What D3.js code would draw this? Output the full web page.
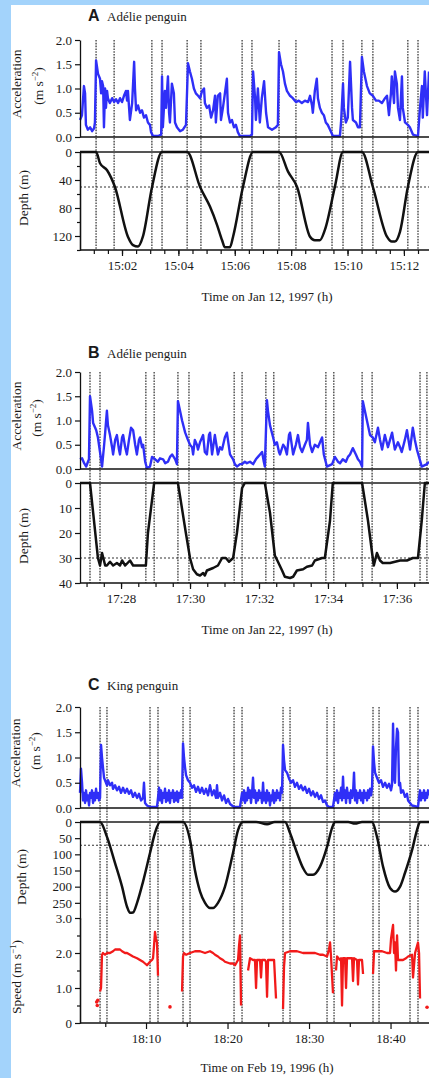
<!DOCTYPE html>
<html><head><meta charset="utf-8">
<script src="https://cdn.jsdelivr.net/npm/d3@7"></script>
<style>
body{margin:0;background:#a3d3fb;}
svg{display:block}
svg text{font-family:"Liberation Serif","DejaVu Serif",serif !important;fill:#1a1a1a;}
svg text.lt{font-family:"Liberation Sans","DejaVu Sans",sans-serif !important;}
</style>
</head><body><svg id="c" width="429" height="1078" font-family="Liberation Serif"></svg>
<script>
// ---------------- DATA ----------------
// Panel A: minutes after 15:00, Jan 12 1997
const accA = [[0.51,0.35],[0.58,0.45],[0.65,1.05],[0.69,0.9],[0.72,0.25],[0.79,0.15],[0.87,0.2],[0.94,0.12],[1.01,0.18],[1.04,0.3],[1.08,1.58],[1.15,1.3],[1.22,1.2],[1.26,0.9],[1.29,1.15],[1.33,1.05],[1.36,0.2],[1.40,1.0],[1.43,0.6],[1.47,0.95],[1.50,0.8],[1.57,0.7],[1.65,0.8],[1.72,0.72],[1.79,0.78],[1.86,0.7],[1.93,0.8],[2.00,0.72],[2.07,0.85],[2.14,0.95],[2.18,0.75],[2.21,0.95],[2.28,0.35],[2.36,0.7],[2.43,1.55],[2.46,1.0],[2.50,0.55],[2.57,0.65],[2.64,0.5],[2.71,0.55],[2.78,0.4],[2.85,0.45],[2.92,0.3],[2.99,0.25],[3.03,0.1],[3.10,0.02],[3.28,0.02],[3.39,0.05],[3.42,1.25],[3.45,0.2],[3.52,0.95],[3.56,0.6],[3.63,1.25],[3.67,0.5],[3.70,0.3],[3.77,1.1],[3.84,0.9],[3.88,0.3],[3.95,0.2],[4.06,0.12],[4.16,0.15],[4.27,0.25],[4.34,1.52],[4.41,1.35],[4.48,1.2],[4.55,1.0],[4.62,0.9],[4.70,0.85],[4.77,0.8],[4.84,0.95],[4.91,1.0],[4.94,0.7],[5.01,0.6],[5.09,0.65],[5.16,0.4],[5.23,0.55],[5.30,0.85],[5.33,0.3],[5.40,0.85],[5.48,0.9],[5.51,0.35],[5.58,0.6],[5.65,0.9],[5.72,1.2],[5.76,0.5],[5.83,0.3],[5.90,0.35],[5.97,0.2],[6.04,0.25],[6.11,0.1],[6.18,0.02],[6.54,0.02],[6.61,0.05],[6.65,1.35],[6.72,0.8],[6.75,0.35],[6.82,1.0],[6.89,0.3],[6.96,0.8],[7.04,1.15],[7.11,0.5],[7.18,0.2],[7.32,0.15],[7.46,0.2],[7.53,0.25],[7.57,1.75],[7.64,1.5],[7.71,1.35],[7.78,1.1],[7.85,0.95],[7.96,0.85],[8.06,0.8],[8.17,0.72],[8.27,0.75],[8.38,0.7],[8.49,0.75],[8.60,0.72],[8.67,0.85],[8.74,0.65],[8.77,0.5],[8.84,0.95],[8.91,1.2],[8.95,0.8],[9.02,0.6],[9.09,0.5],[9.16,0.45],[9.23,0.3],[9.30,0.25],[9.38,0.15],[9.48,0.02],[9.73,0.02],[9.77,0.3],[9.84,1.1],[9.87,0.6],[9.94,0.3],[10.01,0.4],[10.09,1.55],[10.16,0.6],[10.19,0.35],[10.30,0.3],[10.37,0.2],[10.44,0.2],[10.51,1.65],[10.58,1.35],[10.69,1.05],[10.79,0.9],[10.90,0.85],[11.01,0.75],[11.11,0.75],[11.22,0.7],[11.33,0.8],[11.40,0.85],[11.47,0.45],[11.54,0.9],[11.57,1.25],[11.65,0.7],[11.68,1.35],[11.75,1.1],[11.79,0.6],[11.86,0.35],[11.93,1.25],[11.96,0.6],[12.04,0.3],[12.14,0.25],[12.21,0.2],[12.32,0.05],[12.50,0.02],[12.57,0.6],[12.64,1.05],[12.67,0.4],[12.74,1.35],[12.82,0.45],[12.89,1.35]];
const depthA = [[0.51,0],[1.08,0],[1.22,16],[1.47,26],[1.75,50],[2.21,121],[2.39,133],[2.57,135],[2.74,121],[3.06,51],[3.42,0],[4.31,0],[4.77,50],[5.12,78],[5.37,104],[5.55,126],[5.65,136],[5.83,136],[5.94,121],[6.29,50],[6.65,0],[7.57,0],[7.89,28],[8.21,50],[8.67,121],[8.84,126],[9.02,126],[9.20,111],[9.55,50],[9.84,0],[10.51,0],[10.90,50],[11.40,121],[11.57,128],[11.68,128],[11.86,114],[12.14,50],[12.50,0],[12.89,0]];
const linesA = [1.08,1.72,3.06,3.42,4.31,4.80,6.26,6.61,7.57,8.17,9.45,9.84,10.51,10.90,12.14,12.50];
const ticksA = [2,4,6,8,10,12];
const tickLabelsA = ["15:02","15:04","15:06","15:08","15:10","15:12"];

// Panel B: minutes after 17:00, Jan 22 1997
const accB = [[26.81,0.2],[26.87,0.22],[26.93,0.12],[26.99,0.05],[27.04,0.15],[27.07,0.2],[27.10,1.5],[27.16,1.2],[27.19,0.95],[27.25,0.85],[27.28,0.8],[27.33,0.65],[27.39,0.35],[27.45,0.05],[27.51,0.5],[27.54,0.75],[27.59,1.2],[27.62,0.9],[27.68,0.7],[27.74,0.45],[27.77,0.3],[27.83,0.6],[27.88,0.7],[27.94,0.4],[27.97,0.3],[28.03,0.65],[28.06,0.7],[28.12,0.45],[28.17,0.3],[28.23,0.6],[28.29,0.85],[28.35,0.8],[28.41,0.5],[28.46,0.3],[28.52,0.6],[28.55,0.65],[28.61,0.45],[28.64,0.5],[28.70,0.15],[28.75,0.02],[28.84,0.05],[28.90,0.25],[28.99,0.2],[29.07,0.15],[29.13,0.22],[29.22,0.2],[29.28,0.12],[29.36,0.15],[29.42,0.25],[29.48,0.3],[29.57,0.2],[29.62,0.1],[29.65,1.4],[29.71,1.2],[29.77,1.0],[29.86,0.75],[29.94,0.6],[30.00,0.5],[30.06,0.45],[30.09,0.3],[30.14,0.6],[30.20,0.5],[30.23,0.4],[30.29,0.55],[30.38,0.7],[30.43,0.35],[30.49,0.3],[30.55,0.7],[30.58,0.75],[30.64,0.3],[30.72,0.7],[30.81,0.3],[30.87,0.45],[30.93,0.4],[31.01,0.65],[31.07,0.75],[31.16,0.3],[31.25,0.2],[31.30,0.1],[31.36,0.05],[31.45,0.1],[31.51,0.1],[31.59,0.15],[31.65,0.12],[31.74,0.15],[31.83,0.1],[31.91,0.2],[31.97,0.25],[32.03,0.3],[32.09,0.35],[32.14,0.15],[32.17,0.05],[32.23,1.42],[32.26,1.2],[32.32,0.9],[32.41,0.65],[32.46,0.5],[32.52,0.55],[32.58,0.35],[32.61,0.3],[32.70,0.5],[32.75,0.45],[32.81,0.3],[32.87,0.7],[32.90,0.75],[32.99,0.3],[33.07,0.5],[33.13,0.7],[33.19,0.45],[33.25,0.35],[33.33,0.5],[33.39,0.6],[33.42,0.95],[33.48,0.5],[33.54,0.35],[33.62,0.5],[33.71,0.45],[33.77,0.55],[33.83,0.65],[33.88,0.3],[33.97,0.05],[34.06,0.08],[34.12,0.1],[34.20,0.25],[34.29,0.15],[34.35,0.12],[34.43,0.2],[34.52,0.15],[34.58,0.25],[34.64,0.3],[34.72,0.43],[34.81,0.3],[34.87,0.2],[34.93,0.15],[34.99,0.05],[35.01,1.4],[35.07,1.2],[35.13,1.0],[35.22,0.7],[35.30,0.65],[35.36,0.55],[35.45,0.85],[35.51,0.6],[35.57,0.4],[35.65,0.7],[35.74,0.45],[35.80,0.6],[35.86,0.75],[35.94,0.4],[36.03,0.55],[36.09,0.45],[36.14,0.35],[36.23,0.6],[36.29,0.8],[36.38,0.4],[36.46,0.85],[36.52,0.6],[36.58,0.4],[36.64,0.25],[36.72,0.05],[36.81,0.08],[36.87,0.1],[36.93,0.15]];
const depthB = [[26.81,0],[27.10,0],[27.33,30],[27.39,33],[27.45,28],[27.54,33],[27.59,33],[27.68,31.5],[27.77,33],[27.88,32],[27.97,33],[28.03,31],[28.12,33],[28.26,31],[28.35,33],[28.55,33],[28.72,33],[28.78,20],[28.96,0],[29.65,0],[29.88,20],[30.00,30],[30.09,34.5],[30.20,36.5],[30.29,37],[30.38,36],[30.43,37],[30.49,35],[30.67,34],[30.81,33],[30.93,30],[31.04,30],[31.13,31.5],[31.25,30],[31.36,20],[31.51,2],[31.59,0],[32.17,0],[32.32,12],[32.46,29],[32.55,31.5],[32.67,35],[32.75,37.5],[32.90,38],[32.99,37.5],[33.10,35],[33.28,34.5],[33.39,33.5],[33.54,33],[33.62,31],[33.83,30],[33.91,30],[34.06,15],[34.14,0],[34.99,0],[35.16,15],[35.28,28],[35.33,33],[35.42,28],[35.51,31],[35.59,32],[35.80,32],[36.09,31],[36.29,31],[36.46,30],[36.61,30],[36.72,15],[36.81,0],[36.93,0]];
const linesB = [27.10,27.39,28.72,28.96,29.65,29.97,31.28,31.51,32.20,32.43,33.94,34.17,34.99,35.28,36.67,36.87];
const ticksB = [28,30,32,34,36];
const tickLabelsB = ["17:28","17:30","17:32","17:34","17:36"];

// Panel C: minutes after 18:00, Feb 19 1996
const accC = [[1.90,0.3],[2.02,0.78],[2.15,0.5],[2.27,0.15],[2.39,0.3],[2.52,0.1],[2.64,0.35],[2.76,0.15],[2.88,0.25],[3.01,0.05],[3.13,0.3],[3.25,0.2],[3.37,0.35],[3.50,0.1],[3.62,0.3],[3.74,0.15],[3.87,0.38],[3.99,0.2],[4.11,0.3],[4.23,0.15],[4.36,0.2],[4.48,1.25],[4.60,1.0],[4.72,0.8],[4.85,0.6],[4.97,0.55],[5.21,0.45],[5.33,0.55],[5.58,0.45],[5.83,0.5],[5.95,0.38],[6.20,0.45],[6.44,0.35],[6.69,0.42],[6.93,0.3],[7.18,0.4],[7.42,0.3],[7.67,0.38],[7.91,0.28],[8.16,0.35],[8.40,0.22],[8.65,0.3],[8.90,0.2],[9.14,0.28],[9.39,0.15],[9.63,0.2],[9.75,0.5],[9.88,0.1],[10.12,0.05],[10.49,0.02],[11.35,0.02],[11.47,0.2],[11.60,0.4],[11.72,0.15],[11.84,0.35],[11.96,0.1],[12.09,0.3],[12.21,0.2],[12.33,0.38],[12.45,0.12],[12.58,0.3],[12.70,0.15],[12.82,0.35],[12.94,0.1],[13.07,0.3],[13.19,0.2],[13.31,0.35],[13.44,0.12],[13.56,0.3],[13.68,0.15],[13.80,0.33],[13.93,0.12],[14.05,0.3],[14.17,0.2],[14.30,0.35],[14.42,0.2],[14.54,1.28],[14.66,1.0],[14.79,0.8],[14.91,0.65],[15.15,0.55],[15.40,0.5],[15.64,0.4],[15.89,0.45],[16.14,0.32],[16.38,0.42],[16.63,0.3],[16.87,0.4],[17.12,0.28],[17.36,0.38],[17.61,0.25],[17.85,0.45],[18.10,0.25],[18.34,0.35],[18.59,0.2],[18.71,0.45],[18.83,0.2],[19.08,0.3],[19.33,0.15],[19.57,0.25],[19.82,0.1],[20.06,0.18],[20.31,0.08],[20.55,0.05],[20.80,0.02],[21.53,0.02],[21.78,0.3],[21.90,0.15],[22.03,0.35],[22.15,0.1],[22.27,0.3],[22.39,0.15],[22.52,0.4],[22.64,0.2],[22.76,0.35],[22.88,0.1],[23.01,0.3],[23.13,0.6],[23.25,0.2],[23.37,0.35],[23.50,0.1],[23.62,0.3],[23.74,0.15],[23.87,0.35],[23.99,0.2],[24.11,0.3],[24.23,0.1],[24.36,0.5],[24.48,0.15],[24.60,0.3],[24.72,0.1],[24.85,0.35],[24.97,0.15],[25.09,0.3],[25.21,0.05],[25.34,0.25],[25.46,0.15],[25.58,0.35],[25.71,0.1],[25.83,0.3],[25.95,0.15],[26.07,0.35],[26.20,0.2],[26.32,0.3],[26.44,0.15],[26.56,0.4],[26.69,0.3],[26.81,1.25],[26.93,0.95],[27.06,0.75],[27.30,0.7],[27.55,0.58],[27.79,0.5],[28.04,0.55],[28.28,0.42],[28.53,0.5],[28.77,0.38],[29.02,0.45],[29.26,0.35],[29.51,0.42],[29.75,0.3],[30.00,0.38],[30.25,0.25],[30.49,0.33],[30.74,0.22],[30.98,0.3],[31.23,0.18],[31.47,0.25],[31.72,0.12],[31.96,0.15],[32.21,0.05],[32.45,0.02],[32.94,0.02],[33.19,0.3],[33.31,0.15],[33.44,0.35],[33.56,0.1],[33.68,0.3],[33.80,0.2],[33.93,0.4],[34.05,0.15],[34.17,0.62],[34.29,0.2],[34.42,0.35],[34.54,0.1],[34.66,0.4],[34.79,0.2],[34.91,0.3],[35.03,0.1],[35.15,0.35],[35.28,0.2],[35.40,0.3],[35.52,0.7],[35.64,0.15],[35.77,0.35],[35.89,0.1],[36.01,0.3],[36.13,0.2],[36.26,0.35],[36.38,0.15],[36.50,0.3],[36.63,0.1],[36.75,0.35],[36.87,0.2],[37.00,0.3],[37.12,0.15],[37.24,0.35],[37.36,0.2],[37.48,0.38],[37.61,0.25],[37.73,0.4],[37.85,1.22],[37.98,0.9],[38.10,0.7],[38.34,0.6],[38.59,0.5],[38.83,0.55],[39.08,0.42],[39.33,0.5],[39.57,0.4],[39.82,0.48],[40.06,0.35],[40.18,0.45],[40.31,1.67],[40.43,0.6],[40.55,0.5],[40.67,1.2],[40.80,1.57],[40.92,1.5],[41.04,0.45],[41.17,0.5],[41.29,0.3],[41.53,0.35],[41.78,0.22],[42.02,0.28],[42.15,0.15],[42.39,0.1],[42.64,0.05],[43.37,0.02],[43.50,0.2],[43.62,0.35],[43.74,0.15],[43.87,0.3],[43.99,0.2],[44.11,0.35],[44.23,0.15],[44.36,0.3],[44.48,0.2],[44.60,0.35],[44.72,0.25]];
const depthC = [[1.90,0],[4.36,0],[5.21,46],[6.20,127],[7.06,200],[7.67,262],[8.04,281],[8.40,280],[8.90,250],[9.63,185],[10.49,96],[11.10,34],[11.72,0],[14.54,0],[15.40,56],[16.01,150],[16.63,215],[17.24,250],[17.85,266],[18.22,266],[18.83,250],[19.69,200],[20.67,96],[21.29,25],[21.90,0],[23.5,0],[24.85,7],[25.8,0],[27.06,0],[27.67,34],[28.53,96],[29.26,142],[29.88,163],[30.49,163],[31.35,138],[32.21,77],[32.82,19],[33.19,0],[34.8,0],[35.64,5],[36.5,0],[37.73,0],[38.34,46],[39.08,138],[39.94,204],[40.55,215],[41.17,200],[41.78,157],[42.64,87],[43.25,25],[43.62,0],[44.72,0]];
// speed: null separates recorded segments
const speedC = [[4.36,0.9],[4.48,1.0],[4.60,1.95],[4.72,2.0],[4.97,1.95],[5.21,2.0],[5.58,2.0],[5.95,2.05],[6.20,2.1],[6.57,2.1],[6.81,2.1],[7.06,2.05],[7.42,2.0],[7.67,2.0],[8.04,1.95],[8.40,1.9],[8.90,1.85],[9.26,1.8],[9.63,1.75],[9.88,1.7],[10.12,1.65],[10.49,1.75],[10.74,1.8],[10.86,1.85],[10.98,2.2],[11.10,2.6],[11.23,2.4],[11.35,2.3],[11.47,1.35],null,
[14.42,0.9],[14.54,1.9],[14.66,2.0],[14.91,1.95],[15.40,2.0],[16.01,2.05],[16.63,2.05],[17.24,2.0],[17.85,2.05],[18.22,2.0],[18.47,1.95],[18.83,1.9],[19.08,1.85],[19.45,1.8],[19.69,1.75],[20.31,1.7],[20.67,1.7],[20.92,1.65],[21.29,1.8],[21.41,2.2],[21.53,2.5],[21.66,0.5],null,
[22.52,1.5],[22.76,1.85],[23.13,1.8],[23.37,1.8],[23.50,1.0],[23.62,1.8],[23.99,1.8],[24.11,1.3],[24.23,1.8],[24.60,1.8],[24.72,1.75],[24.85,0.75],[24.97,1.8],[25.46,1.8],[25.71,1.8],[25.95,0.7],null,
[26.81,0.4],[26.93,1.6],[27.06,2.0],[27.67,2.05],[28.53,2.05],[29.26,2.0],[29.75,2.0],[30.12,2.0],[30.74,2.0],[31.35,1.95],[31.72,1.95],[32.21,1.9],[32.45,2.1],[32.58,2.3],[32.70,1.9],[32.94,0.85],null,
[33.31,1.5],[33.44,1.9],[33.80,1.8],[33.93,1.85],[34.05,0.5],[34.17,1.85],[34.42,1.85],[34.54,1.0],[34.66,1.85],[35.03,1.85],[35.28,1.85],[35.40,1.2],[35.52,1.85],[35.89,1.8],[36.01,1.1],[36.13,1.8],[36.50,1.8],[36.63,1.4],null,
[37.85,1.4],[37.98,2.05],[38.47,2.05],[38.96,2.05],[39.57,2.0],[39.94,2.0],[40.06,2.4],[40.18,2.6],[40.31,2.8],[40.43,2.0],[40.55,2.3],[40.67,1.5],[40.80,2.5],[40.92,1.8],[41.53,1.8],[41.90,1.85],[42.15,1.9],[42.64,1.95],[42.76,1.3],[43.01,2.0],[43.25,2.2],[43.37,2.3],[43.50,2.0],[43.62,0.7]];
const speedDotsC = [[3.95,0.6],[4.02,0.5],[4.08,0.65],[12.94,0.46],[44.48,0.45]];
const linesC = [4.36,5.21,10.49,11.47,14.54,15.40,20.80,21.78,26.81,27.67,32.21,33.07,37.85,38.59,42.39,43.37];
const ticksC = [10,20,30,40];
const tickLabelsC = ["18:10","18:20","18:30","18:40"];

const accTicks = [0,0.5,1,1.5,2];
const accTickLabels = ["0.0","0.5","1.0","1.5","2.0"];

// ---------------- DRAWING ----------------
const svg = d3.select("#c");
svg.append("rect").attr("x",0).attr("y",0).attr("width",429).attr("height",1078).attr("fill","#a3d3fb");
svg.append("rect").attr("x",11).attr("y",5).attr("width",418).attr("height",1073).attr("fill","#fff");

const X0 = 80, X1 = 429;
const BLUE = "#2f2ff7", RED = "#f21a1a";
const FONT = "Liberation Serif, DejaVu Serif, serif";

function leftAxis(scale, ticks, labels, minor){
  const g = svg.append("g").attr("transform",`translate(${X0},0)`);
  g.call(d3.axisLeft(scale).tickValues(ticks).tickFormat((d,i)=>labels[i]).tickSize(5).tickSizeOuter(0).tickPadding(3));
  if (minor) g.append("g").call(d3.axisLeft(scale).tickValues(minor).tickFormat("").tickSize(3).tickSizeOuter(0));
  g.attr("font-family",FONT);
  g.selectAll("g").attr("font-family",FONT);
  g.selectAll("path.domain").attr("stroke","#111").attr("stroke-width",1.3);
  g.selectAll(".tick line").attr("stroke","#111").attr("stroke-width",1.2);
  g.selectAll("text").attr("font-family",FONT).attr("font-size",13).attr("fill","#222");
  return g;
}
function bottomAxis(x, y0, ticks, labels, minor){
  const g = svg.append("g").attr("transform",`translate(0,${y0})`);
  g.call(d3.axisBottom(x).tickValues(ticks).tickFormat((d,i)=>labels[i]).tickSize(6).tickSizeOuter(0).tickPadding(5));
  g.append("g").call(d3.axisBottom(x).tickValues(minor).tickFormat("").tickSize(4).tickSizeOuter(0));
  g.attr("font-family",FONT);
  g.selectAll("path.domain").remove();
  g.selectAll(".tick line").attr("stroke","#111").attr("stroke-width",1.2);
  g.selectAll("text").attr("font-family",FONT).attr("font-size",13).attr("fill","#222");
  svg.append("line").attr("x1",X0).attr("x2",X1).attr("y1",y0).attr("y2",y0).attr("stroke","#111").attr("stroke-width",1.6);
}
function rotLabel(x, y, parts){
  const t = svg.append("text").attr("transform",`translate(${x},${y}) rotate(-90)`).attr("text-anchor","middle").attr("font-family",FONT).attr("font-size",13.5).attr("fill","#222");
  parts.forEach(p=>{
    const s = t.append("tspan").text(p.t);
    if (p.sup) s.attr("baseline-shift","super").attr("font-size",9);
  });
}
function title(y, letter, name){
  svg.append("text").attr("class","lt").attr("x",88).attr("y",y).attr("font-family","Liberation Sans").attr("font-weight","bold").attr("font-size",16).attr("fill","#222").text(letter);
  svg.append("text").attr("x",107).attr("y",y).attr("font-family",FONT).attr("font-size",13).attr("fill","#222").text(name);
}
function vlines(x, times, yTop, yBot){
  svg.append("g").selectAll("line").data(times).join("line")
    .attr("x1",d=>x(d)).attr("x2",d=>x(d)).attr("y1",yTop).attr("y2",yBot)
    .attr("stroke","#2a2a2a").attr("stroke-width",1.2).attr("stroke-dasharray","1.6,1.2");
}
function hline(x, y, val, dotted, color, w){
  svg.append("line").attr("x1",X0).attr("x2",X1).attr("y1",y(val)).attr("y2",y(val))
    .attr("stroke",color).attr("stroke-width",w).attr("stroke-dasharray",dotted?"2,2":null);
}
function path(data, x, y, color, w, curve){
  svg.append("path").datum(data)
    .attr("d", d3.line().defined(d=>d!==null).x(d=>x(d[0])).y(d=>y(d[1])).curve(curve||d3.curveLinear))
    .attr("fill","none").attr("stroke",color).attr("stroke-width",w).attr("stroke-linejoin","round");
}
function range(a,b,s){const r=[];for(let v=a;v<=b+1e-9;v+=s)r.push(+v.toFixed(3));return r;}
function xTitle(y, txt){
  svg.append("text").attr("x",267).attr("y",y).attr("text-anchor","middle").attr("font-family",FONT).attr("font-size",13).attr("fill","#222").text(txt);
}

// ---------- Panel A ----------
{
  const x = d3.scaleLinear().domain([0.51,12.89]).range([X0,X1]);
  const ya = d3.scaleLinear().domain([0,2]).range([137,40]);
  const yd = d3.scaleLinear().domain([0,140]).range([152,250]);
  title(21,"A","Adélie penguin");
  vlines(x, linesA, 40, 250);
  hline(x, yd, 0, false, "#555", 1.8);
  hline(x, yd, 50, true, "#333", 1.1);
  path(accA, x, ya, BLUE, 2.4);
  path(depthA, x, yd, "#111", 2.5, d3.curveMonotoneX);
  leftAxis(ya, accTicks, accTickLabels);
  svg.append("line").attr("x1",X0).attr("x2",X1).attr("y1",137).attr("y2",137).attr("stroke","#111").attr("stroke-width",1.6);
  leftAxis(yd, [0,40,80,120], ["0","40","80","120"], [20,60,100,140]);
  bottomAxis(x, 250, ticksA, tickLabelsA, range(1,12.5,0.5));
  rotLabel(21, 84, [{t:"Acceleration"}]);
  rotLabel(43, 86, [{t:"(m s"},{t:"−2",sup:true},{t:")"}]);
  rotLabel(28, 198, [{t:"Depth (m)"}]);
  xTitle(301, "Time on Jan 12, 1997 (h)");
}
// ---------- Panel B ----------
{
  const x = d3.scaleLinear().domain([26.81,36.93]).range([X0,X1]);
  const ya = d3.scaleLinear().domain([0,2]).range([469,372]);
  const yd = d3.scaleLinear().domain([0,40]).range([483,583]);
  title(358,"B","Adélie penguin");
  vlines(x, linesB, 372, 583);
  hline(x, yd, 0, false, "#555", 1.8);
  hline(x, yd, 30, true, "#333", 1.1);
  path(accB, x, ya, BLUE, 2.4);
  path(depthB, x, yd, "#111", 2.5);
  leftAxis(ya, accTicks, accTickLabels);
  svg.append("line").attr("x1",X0).attr("x2",X1).attr("y1",469).attr("y2",469).attr("stroke","#111").attr("stroke-width",1.6);
  leftAxis(yd, [0,10,20,30,40], ["0","10","20","30","40"]);
  bottomAxis(x, 583, ticksB, tickLabelsB, range(27,36.5,0.5));
  rotLabel(21, 416, [{t:"Acceleration"}]);
  rotLabel(41, 418, [{t:"(m s"},{t:"−2",sup:true},{t:")"}]);
  rotLabel(28, 536, [{t:"Depth (m)"}]);
  xTitle(634, "Time on Jan 22, 1997 (h)");
}
// ---------- Panel C ----------
{
  const x = d3.scaleLinear().domain([1.90,44.72]).range([X0,X1]);
  const ya = d3.scaleLinear().domain([0,2]).range([808,707]);
  const yd = d3.scaleLinear().domain([0,300]).range([822,919]);
  const ys = d3.scaleLinear().domain([0,3]).range([1023,918]);
  title(690,"C","King penguin");
  vlines(x, linesC, 707, 1023);
  hline(x, yd, 0, false, "#555", 1.8);
  hline(x, yd, 72, true, "#333", 1.1);
  path(accC, x, ya, BLUE, 2.4);
  path(depthC, x, yd, "#111", 2.5, d3.curveMonotoneX);
  path(speedC, x, ys, RED, 2.3);
  svg.append("g").selectAll("circle").data(speedDotsC).join("circle")
    .attr("cx",d=>x(d[0])).attr("cy",d=>ys(d[1])).attr("r",1.8).attr("fill",RED);
  leftAxis(ya, accTicks, accTickLabels);
  svg.append("line").attr("x1",X0).attr("x2",X1).attr("y1",808).attr("y2",808).attr("stroke","#111").attr("stroke-width",1.6);
  leftAxis(yd, [0,50,100,150,200,250], ["0","50","100","150","200","250"]);
  leftAxis(ys, [0,1,2,3], ["0","1.0","2.0","3.0"], [0.5,1.5,2.5]);
  bottomAxis(x, 1023, ticksC, tickLabelsC, [5,15,25,35]);
  rotLabel(20, 753, [{t:"Acceleration"}]);
  rotLabel(40, 751, [{t:"(m s"},{t:"−2",sup:true},{t:")"}]);
  rotLabel(26, 877, [{t:"Depth (m)"}]);
  rotLabel(21, 977, [{t:"Speed (m s"},{t:"−1",sup:true},{t:")"}]);
  xTitle(1072, "Time on Feb 19, 1996 (h)");
}
</script></body></html>
